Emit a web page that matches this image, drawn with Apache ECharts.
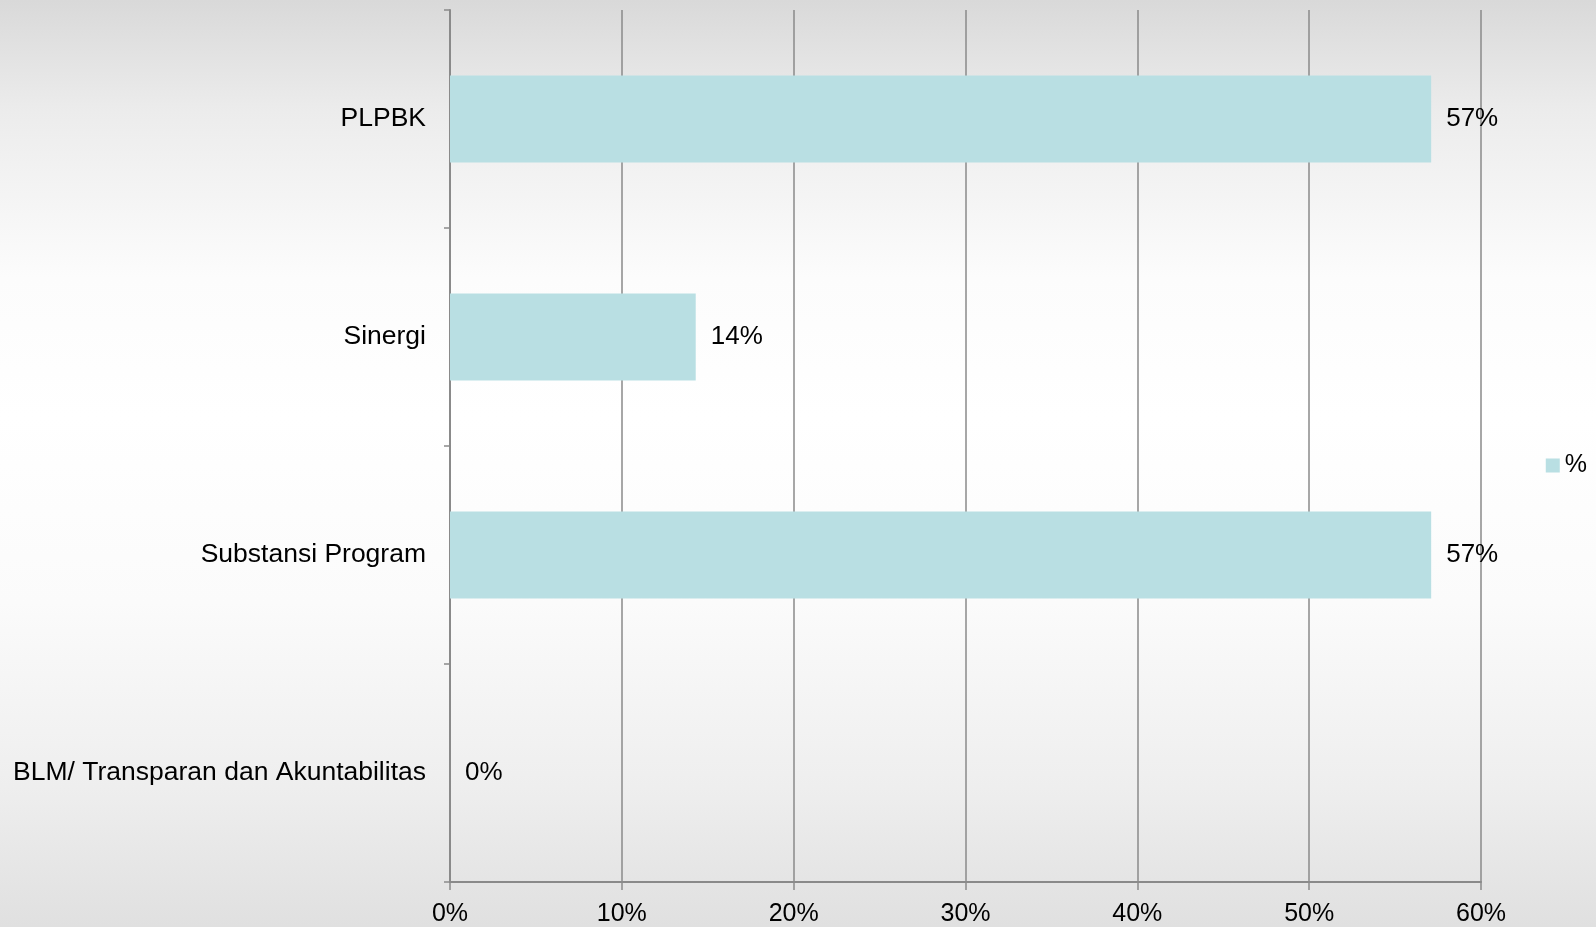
<!DOCTYPE html>
<html><head><meta charset="utf-8">
<script src="https://cdn.jsdelivr.net/npm/echarts@6/dist/echarts.min.js"></script>
<style>html,body{margin:0;padding:0;}#c{width:1596px;height:927px;}</style>
</head><body><div id="c"></div>
<script>
var categories = ["PLPBK", "Sinergi", "Substansi Program", "BLM/ Transparan dan Akuntabilitas"];
var values = [57.1, 14.3, 57.1, 0];
var xTicks = [0, 10, 20, 30, 40, 50, 60];
var seriesName = "%";

var chart = echarts.init(document.getElementById('c'));
var font = 'Liberation Sans, Arial, sans-serif';
chart.setOption({
  backgroundColor: new echarts.graphic.LinearGradient(0, 0, 0, 1, [
    {offset: 0, color: '#d9d9d9'},
    {offset: 0.12, color: '#ececec'},
    {offset: 0.3, color: '#fcfcfc'},
    {offset: 0.45, color: '#ffffff'},
    {offset: 0.65, color: '#fbfbfb'},
    {offset: 0.85, color: '#eeeeee'},
    {offset: 1, color: '#e0e0e0'}
  ]),
  animation: false,
  grid: {left: 450, right: 115, top: 10, bottom: 44},
  legend: {
    right: 4, top: 448, orient: 'vertical',
    itemWidth: 14, itemHeight: 14, itemGap: 6,
    icon: 'rect',
    textStyle: {fontFamily: font, fontSize: 25, color: '#000'},
    data: [seriesName]
  },
  xAxis: {
    type: 'value', min: xTicks[0], max: xTicks[xTicks.length - 1], interval: 10,
    axisLine: {show: true, lineStyle: {color: '#8a8a8a', width: 2}},
    axisTick: {show: true, length: 8, lineStyle: {color: '#8a8a8a', width: 1.5}},
    splitLine: {show: true, lineStyle: {color: '#8a8a8a', width: 1.5}},
    axisLabel: {formatter: '{value}%', fontFamily: font, fontSize: 25, color: '#000', margin: 20}
  },
  yAxis: {
    type: 'category', inverse: true, data: categories,
    axisLine: {show: true, lineStyle: {color: '#8a8a8a', width: 2}},
    axisTick: {show: true, length: 6, lineStyle: {color: '#8a8a8a', width: 1.5}},
    axisLabel: {fontFamily: font, fontSize: 26.5, color: '#000', margin: 24}
  },
  series: [{
    name: seriesName, type: 'bar', data: values, barWidth: '40%',
    itemStyle: {color: '#b9dfe3'},
    label: {show: true, position: 'right', distance: 15, fontFamily: font, fontSize: 26, color: '#000',
      formatter: function(p){ return Math.round(p.value) + '%'; }}
  }]
});
</script></body></html>
